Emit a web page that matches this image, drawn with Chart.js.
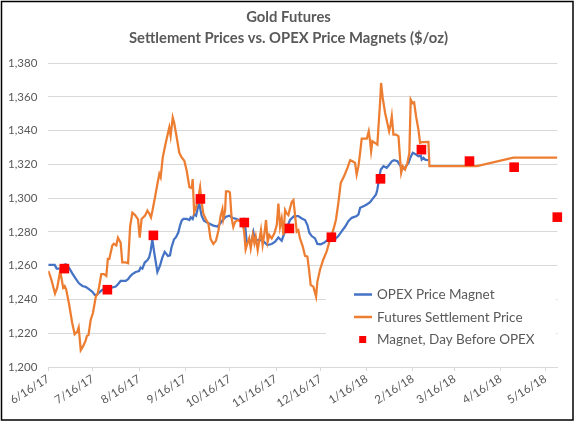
<!DOCTYPE html>
<html>
<head>
<meta charset="utf-8">
<title>Gold Futures</title>
<script src="https://cdn.jsdelivr.net/npm/chart.js@4.4.1/dist/chart.umd.min.js"></script>
<style>
  html, body { margin: 0; padding: 0; background: #fff; }
  #box { width: 577px; height: 424px; }
</style>
</head>
<body>
<div id="box"><canvas id="chart-ouro"></canvas></div>
<script>
// eixo X: dias contados a partir de 6/16/17
const startLabel = "6/16/17";
const tickLabels = ["6/16/17", "7/16/17", "8/16/17", "9/16/17", "10/16/17", "11/16/17",
  "12/16/17", "1/16/18", "2/16/18", "3/16/18", "4/16/18", "5/16/18"];
const lastDay = 342;

// Futures Settlement Price
const futDay = [0, 2, 4.5, 6, 8, 9, 10, 11, 12, 14, 16, 17.7, 19.5, 20.4, 21.8, 23.5, 25, 26, 27, 28.5,
  30, 32, 33, 34, 35.6, 37.4, 39, 40, 41, 43, 44, 45.7, 46.8, 48.6, 49.7, 52, 53.6, 55, 56.5, 58.3,
  60.3, 61.4, 62.7, 65, 66.6, 68, 69, 70, 71.7, 73.3, 74.6, 75.5, 76.9, 78.5, 80, 81.3, 82.2, 83.6, 84.5, 86.3,
  88, 89.6, 91.4, 93, 94.8, 96.4, 97, 98, 99.3, 100.8, 102, 103, 104.2, 105.8, 107.6, 109, 110.9, 112.7, 114.3, 115.8,
  117, 117.6, 118.8, 119.4, 121, 122, 123.2, 124.3, 125.5, 127, 130, 131.5, 132.6, 133.8, 135, 136, 137.4, 138.5,
  139.4, 140.7, 141.8, 142.9, 144, 145.2, 146.3, 147.4, 148.5, 150.1, 151.9, 153.5, 154.6, 155.7, 156.8, 158, 159.1, 160.2,
  161.3, 162.4, 163.6, 164.7, 165.8, 166.9, 168, 169.1, 171, 172.5, 174.1, 175.2, 176.3, 178.1, 179.9, 180.8, 182.6, 184.8,
  187.1, 189.3, 191.6, 193.3, 194.9, 196.5, 198.7, 201, 202.8, 204.5, 206.1, 207.2, 208.4, 209.5, 210.6, 214, 215.3, 216.2,
  216.9, 217.8, 219.5, 221.1, 221.8, 222.9, 223.6, 224.7, 226.3, 227.8, 229, 230, 230.8, 231.9, 233.7, 235.3, 236.4, 237.1,
  238.2, 239.7, 241.3, 242.6, 243.5, 244.7, 245.8, 247.1, 248.7, 249.8, 250.9, 255.4, 256.1, 288, 312.5, 342];
const futPrice = [1257, 1252, 1243.5, 1247, 1257, 1252, 1247, 1248, 1246, 1237, 1226.4, 1219.4, 1221, 1223.4, 1210, 1212.5, 1215.5, 1218.5, 1219, 1228,
  1232, 1242, 1243, 1247, 1255, 1255, 1254, 1264, 1264, 1272, 1273, 1272, 1276.6, 1273.7, 1262, 1262, 1261.5, 1283.5, 1291.4, 1290,
  1287.5, 1276.6, 1287.7, 1289.7, 1292.7, 1290.7, 1288.7, 1292.7, 1300.6, 1308.4, 1314.4, 1312.4, 1324.2, 1331.1, 1337, 1342, 1337, 1347.9, 1345, 1336,
  1327, 1324.2, 1322.2, 1316.3, 1306.5, 1306, 1311.4, 1291.7, 1294.6, 1300.6, 1306.5, 1297.6, 1290.7, 1287.7, 1284.8, 1275.9, 1272.9, 1274.9, 1280.8, 1289.7,
  1293.6, 1287.7, 1292.7, 1304.1, 1304.1, 1303.5, 1288, 1283, 1286, 1287, 1286, 1281, 1269.7, 1273.3, 1276.3, 1270.3, 1278.2, 1273.3,
  1277.2, 1269.3, 1275.2, 1281.1, 1272.3, 1279.2, 1287.1, 1274.2, 1278.2, 1276.2, 1279.2, 1284.1, 1296.9, 1283.1, 1288, 1278.2, 1293, 1291,
  1290, 1294, 1297.9, 1298.9, 1290, 1280.2, 1281.1, 1276.2, 1271.3, 1265.8, 1265.4, 1257.5, 1248.6, 1247.6, 1241.7, 1250.6, 1257.8, 1263.7,
  1268.7, 1275.6, 1281.5, 1287.4, 1297.3, 1309.1, 1313, 1318, 1322.5, 1321.9, 1320.9, 1314, 1319, 1326.9, 1335.3, 1335.3, 1339.7, 1333.8,
  1327.8, 1333.8, 1332.8, 1331.8, 1341.7, 1356.4, 1368.3, 1359.4, 1350.5, 1344.6, 1339.7, 1343.6, 1348.6, 1337.7, 1337.7, 1336.7, 1322.9, 1315,
  1319, 1317, 1320.9, 1326.9, 1358.4, 1356.4, 1356.8, 1348.6, 1340.7, 1332.8, 1333.2, 1333.4, 1319, 1319, 1324, 1324];

// OPEX Price Magnet
const opexDay = [0, 4.3, 5.6, 8.3, 10, 11.7, 13.9, 16.1, 18.4, 20.6, 22.9, 25.1, 27.3, 29.6, 31.2, 32.5, 34.1, 36.3, 38.5, 40.8,
  43, 45.3, 46.8, 48.6, 52, 53.6, 54.9, 56.5, 58.7, 61, 62, 63.2, 64.8, 66.5, 67.7, 68.8, 69.9, 71, 72.1, 73.3,
  75, 76.6, 78.2, 80.4, 81.8, 82.7, 84.5, 85.8, 87.4, 88.5, 89.6, 90.8, 93, 94.8, 95.7, 97, 98, 99.3, 100.8, 101.5,
  103, 104.6, 106.4, 108.7, 110.9, 113.6, 115.4, 117.2, 119.4, 121.6, 123.9, 126.6, 128.9, 131.1, 132.5, 133.3, 135.1, 136.7, 137.8, 138.9,
  141.2, 144.1, 147.2, 150.1, 152.4, 154.6, 156.8, 158.4, 160.6, 162.4, 165.1, 168, 170.3, 172.5, 174.1, 175.4, 177, 179.2, 180.8, 183,
  185.3, 187.5, 189.8, 192.7, 194.9, 197.2, 199.4, 201.6, 203.9, 207.2, 208.4, 209.5, 211.8, 214, 216.2, 218.4, 220.2, 221.1, 222.5, 223.4,
  225.2, 227.4, 229.2, 230.8, 232.3, 234.6, 235.9, 237.5, 239, 240.4, 242, 243.5, 244.9, 247.1, 248.7, 250.3, 250.9, 252.1, 253.2, 255.4];
const opexPrice = [1260.5, 1260.5, 1258.3, 1258.3, 1260.3, 1260.9, 1258.9, 1255.5, 1252.4, 1249.6, 1248, 1247.5, 1246.1, 1244.5, 1242.7, 1242.7, 1244.1, 1245.7, 1246.1, 1246.5,
  1247.1, 1247.7, 1249, 1251, 1251, 1252, 1253.6, 1255, 1256.3, 1256.9, 1258.9, 1258.3, 1261.9, 1263.2, 1264.8, 1268.8, 1275.7, 1268.8, 1262.8, 1256.3,
  1259.9, 1264.8, 1268.2, 1265.8, 1266.2, 1270.7, 1275.7, 1276.9, 1279.8, 1283.8, 1286.7, 1287.7, 1287.7, 1287.1, 1288.7, 1287.7, 1290.7, 1289.7, 1295.6, 1296.6,
  1289.7, 1286.7, 1285.8, 1284.8, 1283.8, 1283.2, 1284.8, 1287.1, 1289.1, 1289.7, 1288.3, 1287.7, 1286.7, 1287.7, 1281.8, 1273.9, 1274.9, 1274.9, 1279.8, 1274.9,
  1275.3, 1274.9, 1272.3, 1272.9, 1274.2, 1276.8, 1274.8, 1278.8, 1283.1, 1287.1, 1289.4, 1289.4, 1288, 1287.1, 1284.1, 1279.6, 1277.6, 1276.2, 1272.9, 1272.7,
  1273.6, 1275.2, 1276.8, 1275.8, 1277.6, 1280.5, 1283.1, 1286.4, 1288.4, 1289.4, 1290.4, 1294.3, 1295.3, 1296.3, 1297.7, 1300.2, 1302.2, 1305.2, 1313.1, 1317,
  1319, 1318, 1320, 1321.9, 1322.5, 1321.9, 1320, 1318, 1317.4, 1319, 1320.9, 1324.5, 1326.9, 1325.9, 1324.9, 1325.3, 1322.9, 1323.9, 1322.9, 1322.5];

// Magnet, Day Before OPEX
const magnetDay = [10.8, 39.7, 70.6, 102.2, 131.7, 162, 190.2, 223.2, 250.7, 283, 313, 342];
const magnetPrice = [1258.3, 1245.8, 1278, 1299.6, 1285.6, 1282.1, 1276.9, 1311.5, 1328.8, 1322, 1318.4, 1288.8];

function dayOf(label) {
  const [m, d, y] = label.split("/").map(Number);
  const [m0, d0, y0] = startLabel.split("/").map(Number);
  return Math.round((Date.UTC(2000 + y, m - 1, d) - Date.UTC(2000 + y0, m0 - 1, d0)) / 86400000);
}
const tickDays = tickLabels.map(dayOf);

const toPoints = (xs, ys) => xs.map((x, i) => ({ x: x, y: ys[i] }));

const grey = "#595959";
const gridGrey = "#d9d9d9";

// legenda desenhada dentro da área do gráfico, por cima das linhas de grade
const insideLegend = {
  id: "insideLegend",
  afterDraw(chart) {
    const ctx = chart.ctx;
    ctx.save();
    ctx.fillStyle = "#fff";
    ctx.fillRect(326, 281, 230, 72);
    ctx.font = "13.5px Lato";
    ctx.textBaseline = "middle";
    chart.data.datasets.forEach((ds, i) => {
      const y = 294.5 + i * 22.5;
      if (ds.showLine === false) {
        ctx.fillStyle = ds.pointBackgroundColor;
        ctx.fillRect(359.2, y - 3.5, 7, 7);
      } else {
        ctx.strokeStyle = ds.borderColor;
        ctx.lineWidth = 2.5;
        ctx.beginPath();
        ctx.moveTo(354, y);
        ctx.lineTo(372, y);
        ctx.stroke();
      }
      ctx.fillStyle = grey;
      ctx.fillText(ds.label, 377, y + 0.5);
    });
    // moldura do gráfico
    ctx.strokeStyle = "#000";
    ctx.lineWidth = 1.5;
    ctx.strokeRect(1.5, 1.5, 571.5, 418.5);
    ctx.restore();
  }
};

new Chart(document.getElementById("chart-ouro"), {
  type: "line",
  data: {
    datasets: [
      {
        label: "OPEX Price Magnet",
        data: toPoints(opexDay, opexPrice),
        borderColor: "#4472c4",
        borderWidth: 2.25,
        pointRadius: 0,
        tension: 0,
        order: 3
      },
      {
        label: "Futures Settlement Price",
        data: toPoints(futDay, futPrice),
        borderColor: "#ed7d31",
        borderWidth: 2.25,
        pointRadius: 0,
        tension: 0,
        order: 2
      },
      {
        label: "Magnet, Day Before OPEX",
        data: toPoints(magnetDay, magnetPrice),
        showLine: false,
        clip: false,
        pointStyle: "rect",
        pointRadius: 6.8,
        pointBackgroundColor: "#ff0000",
        pointBorderWidth: 0,
        borderColor: "#ff0000",
        order: 1
      }
    ]
  },
  options: {
    responsive: true,
    maintainAspectRatio: false,
    animation: false,
    layout: { padding: 0 },
    plugins: {
      legend: { display: false },
      tooltip: { enabled: false },
      title: {
        display: true,
        text: ["Gold Futures", "Settlement Prices vs. OPEX Price Magnets ($/oz)"],
        color: grey,
        font: { family: "Lato", size: 14.8, weight: "bold", lineHeight: 1.42 },
        padding: { top: 6.5, bottom: 14.7 }
      }
    },
    scales: {
      x: {
        type: "linear",
        min: 0,
        max: lastDay,
        afterBuildTicks: (scale) => { scale.ticks = tickDays.map(v => ({ value: v })); },
        afterFit: (scale) => { scale.height = 57; },
        ticks: {
          autoSkip: false,
          minRotation: 32,
          maxRotation: 32,
          padding: 1,
          color: grey,
          font: { family: "Lato", size: 11.5 },
          callback: (value, index) => tickLabels[index]
        },
        grid: { drawOnChartArea: false, drawTicks: true, tickLength: 4, color: gridGrey },
        border: { color: gridGrey }
      },
      y: {
        min: 1200,
        max: 1380,
        afterFit: (scale) => { scale.width = 48.3; },
        ticks: {
          stepSize: 20,
          padding: 11,
          color: grey,
          font: { family: "Lato", size: 11.5 },
          callback: (value) => value.toLocaleString("en-US")
        },
        grid: { color: gridGrey, drawTicks: false },
        border: { display: false }
      },
      // espaço à direita, para o título ficar centrado no quadro inteiro
      spacer: {
        position: "right",
        display: true,
        afterFit: (scale) => { scale.width = 19.7; },
        ticks: { display: false },
        grid: { display: false },
        border: { display: false }
      }
    }
  },
  plugins: [insideLegend]
});
</script>
</body>
</html>
